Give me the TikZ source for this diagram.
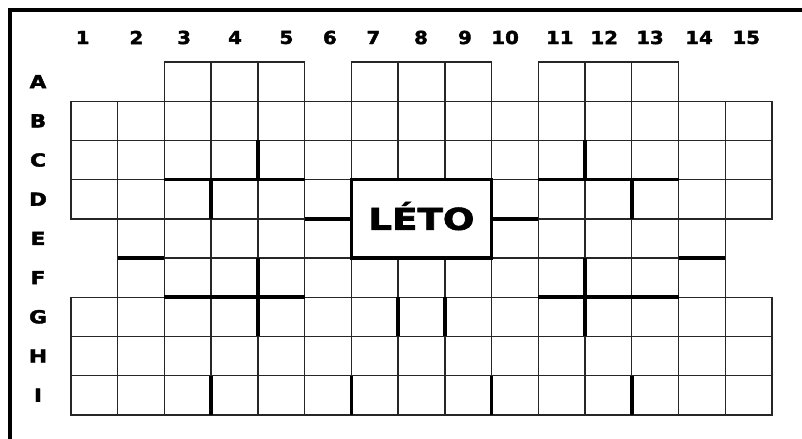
\documentclass[tikz,border=0pt]{standalone}
\usepackage{fontspec}
\usepackage{graphicx}
\newfontfamily\heavyfont{DejaVu Sans Bold}[FakeBold=2]

\tikzset{
  cell/.style={draw=black!85, line width=1.4pt},
  wall/.style={line width=3.6pt},
  lbl/.style={font=\heavyfont\fontsize{18}{18}\selectfont, inner sep=0pt},
}

\begin{document}
\begin{tikzpicture}[x=46.73pt, y=-39.2pt]
    \useasboundingbox (-1.5194,-1.5816) rectangle (15.643,9.592);

    % Okraj
    \draw[line width=3.8pt] (-1.3054,9.8) -- (-1.3054,-1.3265) -- (15.9,-1.3265);

    % Cisla sloupcu
    \foreach \n/\xx in {1/0.25, 2/1.40, 3/2.42, 4/3.51, 5/4.61, 6/5.54, 7/6.47, 8/7.49,
                        9/8.43, 10/9.29, 11/10.46, 12/11.41, 13/12.39, 14/13.44, 15/14.45}
        \node[lbl] (col\n) at (\xx,-0.625) {\scalebox{1.1}[1]{\n}};

    % Pismena radku
    \foreach \r/\l in {1/A, 2/B, 3/C, 4/D, 5/E, 6/F, 7/G, 8/H, 9/I}
        \node[lbl] (row\l) at (-0.706,\r-0.5) {\scalebox{1.2}[1]{\l}};

    % Policka
    \foreach \r/\cols in {1/{3,4,5,7,8,9,11,12,13}, 2/{1,...,15}, 3/{1,...,15},
                          4/{1,2,3,4,5,6,10,11,12,13,14,15}, 5/{2,3,4,5,6,10,11,12,13,14},
                          6/{2,...,14}, 7/{1,...,15}, 8/{1,...,15}, 9/{1,...,15}}
        \foreach \c in \cols
            \draw[cell] (\c-1,\r-1) rectangle (\c,\r);

    % Pole LETO
    \node[draw, line width=3.6pt, fill=white, inner sep=0pt,
          minimum width=140.19pt, minimum height=78.4pt,
          text height=22pt, text depth=0pt,
          font=\heavyfont\fontsize{30}{30}\selectfont] (leto) at (7.5,4)
          {\scalebox{1.24}[1]{LÉTO}};

    % Silne steny vlevo
    \draw[wall] (4,2) -- (4,3)  (2,3) -- (5,3)  (3,3) -- (3,4);
    \draw[wall] (5,4) -- (leto.west);
    \draw[wall] (1,5) -- (2,5)  (4,5) -- (4,7)  (2,6) -- (5,6);
    % Silne steny vpravo
    \draw[wall] (11,2) -- (11,3)  (10,3) -- (13,3)  (12,3) -- (12,4);
    \draw[wall] (leto.east) -- (10,4);
    \draw[wall] (13,5) -- (14,5)  (11,5) -- (11,7)  (10,6) -- (13,6);
    % Silne steny dole
    \draw[wall] (7,6) -- (7,7)  (8,6) -- (8,7);
    \draw[wall] (3,8) -- (3,9)  (6,8) -- (6,9)  (9,8) -- (9,9)  (12,8) -- (12,9);
\end{tikzpicture}
\end{document}
